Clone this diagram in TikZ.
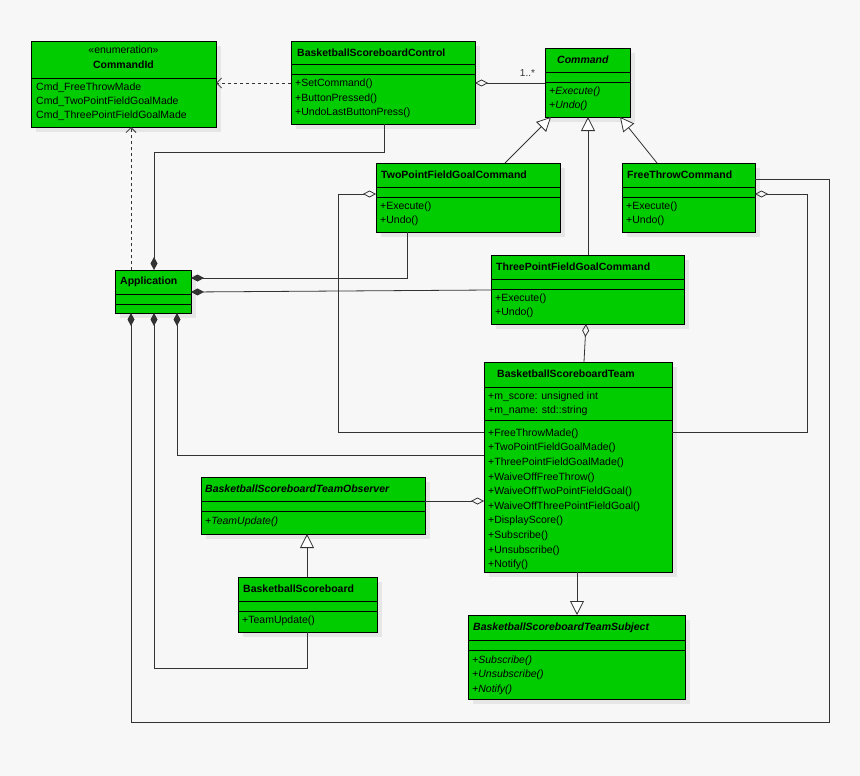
\documentclass[tikz,border=0pt]{standalone}
\usepackage{fontspec}
\setmainfont{Liberation Sans}
\usetikzlibrary{arrows.meta}
\definecolor{bg}{HTML}{F7F7F7}
\definecolor{boxg}{HTML}{00CC00}
\definecolor{shad}{HTML}{E6E6E6}
\definecolor{ln}{HTML}{333333}
\newcommand\ubox[5]{%
  \fill[shad] (#2+5,#3+5) rectangle (#4+5,#5+5);
  \node[box,minimum width={(#4-#2)*1pt},minimum height={(#5-#3)*1pt}] (#1) at ({(#2+#4)/2},{(#3+#5)/2}) {};}
\newcommand\usep[3]{\draw[thick,black] (#1,#3) -- (#2,#3);}
\begin{document}
\begin{tikzpicture}[x=1pt,y=-1pt,
  box/.style={draw=black,thick,fill=boxg,inner sep=0pt,outer sep=0pt},
  t/.style={anchor=west,inner sep=0pt,font=\fontsize{10.5}{12}\selectfont},
  hd/.style={t,font=\fontsize{10.5}{12}\selectfont\bfseries},
  con/.style={draw=ln,line width=0.8pt},
  agg/.style={con,{Diamond[open,length=13,width=7]}-},
  comp/.style={con,{Diamond[length=13,width=7]}-},
  gen/.style={con,-{Triangle[open,length=14,width=14,fill=white]}},
  dep/.style={con,dashed,-{Straight Barb[length=5,width=10]}}]
\fill[bg] (0,0) rectangle (860,776);
\useasboundingbox (0,0) rectangle (860,776);
% CommandId
\ubox{cid}{31}{41}{216}{127}
\usep{31}{216}{78}
\node[t,anchor=center] (cid1) at (123.5,50) {«enumeration»};
\node[hd,anchor=center] (cid2) at (123.5,65) {CommandId};
\node[t] (cid3) at (36,88) {Cmd\_FreeThrowMade};
\node[t] (cid4) at (36,102) {Cmd\_TwoPointFieldGoalMade};
\node[t] (cid5) at (36,116) {Cmd\_ThreePointFieldGoalMade};
% Control
\ubox{ctl}{291}{41}{475}{124}
\usep{291}{475}{64}\usep{291}{475}{74}
\node[hd] (ctl1) at (297,53) {BasketballScoreboardControl};
\node[t] (ctl2) at (295,84) {+SetCommand()};
\node[t] (ctl3) at (295,99) {+ButtonPressed()};
\node[t] (ctl4) at (295,113) {+UndoLastButtonPress()};
% Command
\ubox{cmd}{545}{48}{630}{117}
\usep{545}{630}{72}\usep{545}{630}{82}
\node[hd,font=\fontsize{10.5}{12}\selectfont\bfseries\itshape] (cmd1) at (557,60) {Command};
\node[t,font=\fontsize{10.5}{12}\selectfont\itshape] (cmd2) at (549,92) {+Execute()};
\node[t,font=\fontsize{10.5}{12}\selectfont\itshape] (cmd3) at (549,106) {+Undo()};
% TwoPoint
\ubox{two}{376}{163}{560}{232}
\usep{376}{560}{187}\usep{376}{560}{197}
\node[hd] (two1) at (381,175) {TwoPointFieldGoalCommand};
\node[t] (two2) at (380,207) {+Execute()};
\node[t] (two3) at (380,221) {+Undo()};
% FreeThrow
\ubox{ft}{622}{163}{755}{232}
\usep{622}{755}{187}\usep{622}{755}{197}
\node[hd] (ft1) at (627,175) {FreeThrowCommand};
\node[t] (ft2) at (626,207) {+Execute()};
\node[t] (ft3) at (626,221) {+Undo()};
% ThreePoint
\ubox{thr}{491}{255}{684}{324}
\usep{491}{684}{279}\usep{491}{684}{289}
\node[hd] (thr1) at (496,267) {ThreePointFieldGoalCommand};
\node[t] (thr2) at (495,299) {+Execute()};
\node[t] (thr3) at (495,313) {+Undo()};
% Application
\ubox{app}{115}{270}{191}{313}
\usep{115}{191}{294}\usep{115}{191}{304}
\node[hd] (app1) at (120,282) {Application};
% Team
\ubox{team}{484}{362}{672}{572}
\usep{484}{672}{387}\usep{484}{672}{420}
\node[hd] (tm0) at (497,374) {BasketballScoreboardTeam};
\node[t] (tm1) at (488,397) {+m\_score: unsigned int};
\node[t] (tm2) at (488,411) {+m\_name: std::string};
\foreach \s [count=\i] in {FreeThrowMade(),TwoPointFieldGoalMade(),ThreePointFieldGoalMade(),WaiveOffFreeThrow(),WaiveOffTwoPointFieldGoal(),WaiveOffThreePointFieldGoal(),DisplayScore(),Subscribe(),Unsubscribe(),Notify()}
  \node[t] (tmm\i) at (488,{419+14.6*\i}) {+\s};
% Observer
\ubox{obs}{201}{477}{425}{534}
\usep{201}{425}{501}\usep{201}{425}{511}
\node[hd,font=\fontsize{10.5}{12}\selectfont\bfseries\itshape] (obs1) at (205,489) {BasketballScoreboardTeamObserver};
\node[t,font=\fontsize{10.5}{12}\selectfont\itshape] (obs2) at (205,522) {+TeamUpdate()};
% Scoreboard
\ubox{sb}{238}{577}{377}{632}
\usep{238}{377}{601}\usep{238}{377}{611}
\node[hd] (sb1) at (243,589) {BasketballScoreboard};
\node[t] (sb2) at (242,621) {+TeamUpdate()};
% Subject
\ubox{sub}{468}{615}{685}{699}
\usep{468}{685}{640}\usep{468}{685}{650}
\node[hd,font=\fontsize{10.5}{12}\selectfont\bfseries\itshape] (sub1) at (473,628) {BasketballScoreboardTeamSubject};
\foreach \s [count=\i] in {Subscribe(),Unsubscribe(),Notify()}
  \node[t,font=\fontsize{10.5}{12}\selectfont\itshape] (subm\i) at (472,{646+14.5*\i}) {+\s};
% connectors
\draw[dep] (ctl.west |- 0,83) -- (cid.east |- 0,83);
\draw[agg] (ctl.east |- 0,83) -- (cmd.west |- 0,83) node[pos=0.75,above=3pt,font=\fontsize{10}{12}\selectfont,text=ln] {1..*};
\draw[gen] (505,163) -- (551,117);
\draw[gen] (thr.north -| 588,0) -- (cmd.south -| 588,0);
\draw[gen] (657,163) -- (620,117);
\draw[comp] (app.north -| 154,0) -- (154,152) -- (384,152) -- (ctl.south -| 384,0);
\draw[dep] (app.north -| 131,0) -- (cid.south -| 131,0);
\draw[comp] (app.east |- 0,278) -- (407,278) -- (two.south -| 407,0);
\draw[comp] (app.east |- 0,292) -- (thr.west |- 0,290);
\draw[agg] (two.west |- 0,194) -- (338,194) -- (338,432) -- (team.west |- 0,432);
\draw[agg] (ft.east |- 0,194) -- (807,194) -- (807,432) -- (team.east |- 0,432);
\draw[comp] (app.south -| 131,0) -- (131,722) -- (829,722) -- (829,179) -- (ft.east |- 0,179);
\draw[comp] (app.south -| 154,0) -- (154,668) -- (307,668) -- (sb.south -| 307,0);
\draw[comp] (app.south -| 177,0) -- (177,455) -- (team.west |- 0,455);
\draw[agg] (thr.south -| 586,0) -- (team.north -| 584,0);
\draw[agg] (team.west |- 0,501) -- (obs.east |- 0,501);
\draw[gen] (sb.north -| 307,0) -- (obs.south -| 307,0);
\draw[gen] (team.south -| 577,0) -- (sub.north -| 577,0);
\end{tikzpicture}
\end{document}
